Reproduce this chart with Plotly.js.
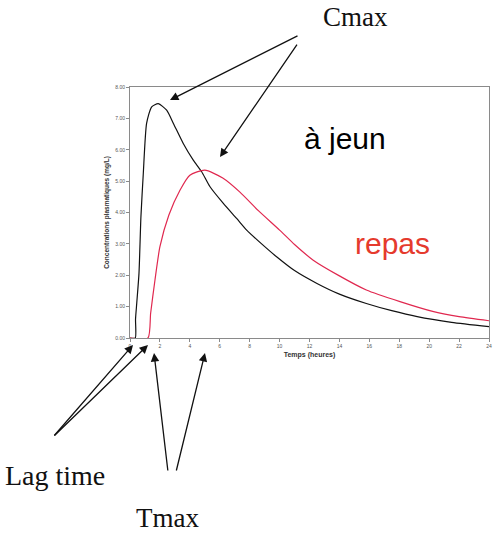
<!DOCTYPE html>
<html>
<head>
<meta charset="utf-8">
<script src="https://cdn.plot.ly/plotly-3.0.1.min.js"></script>
<style>html,body{margin:0;padding:0;background:#fff;}#chart{width:504px;height:546px;}</style>
</head>
<body>
<div id="chart"></div>
<script>
// Data (time in hours, concentration in mg/L)
const timeFasting = [0, 0.35, 0.37, 0.45, 0.6, 0.73, 0.89, 1.11, 1.45, 1.89, 2.45, 2.9, 3.56, 4.23, 4.79, 5.35, 6.24, 7.13, 7.8, 8.8, 9.8, 11.0, 12.5, 14.0, 15.8, 17.5, 19.2, 21.5, 24];
const concFasting = [0, 0, 0.6, 1.1, 2.06, 3.86, 5.25, 6.84, 7.37, 7.47, 7.26, 6.84, 6.2, 5.67, 5.30, 4.82, 4.29, 3.81, 3.44, 3.0, 2.59, 2.15, 1.74, 1.40, 1.10, 0.87, 0.68, 0.50, 0.36];
const timeMeal = [0, 1.2, 1.38, 1.67, 2.0, 2.6, 3.34, 4.0, 5.0, 6.2, 7.35, 8.6, 10.0, 11.0, 12.25, 14.0, 15.8, 18.05, 20.3, 22.0, 24];
const concMeal = [0, 0, 0.79, 1.85, 2.91, 3.92, 4.71, 5.19, 5.35, 5.1, 4.65, 4.05, 3.44, 2.98, 2.48, 1.98, 1.53, 1.16, 0.84, 0.68, 0.55];
const xTicks = [0, 2, 4, 6, 8, 10, 12, 14, 16, 18, 20, 22, 24];
const yTicks = [0, 1, 2, 3, 4, 5, 6, 7, 8];
const yTickLabels = ["0.00", "1.00", "2.00", "3.00", "4.00", "5.00", "6.00", "7.00", "8.00"];

const traces = [
  {x: timeFasting, y: concFasting, mode: 'lines', name: 'à jeun', line: {color: '#111111', width: 1.2, shape: 'spline', smoothing: 0.6}},
  {x: timeMeal, y: concMeal, mode: 'lines', name: 'repas', line: {color: '#e0284f', width: 1.2, shape: 'spline', smoothing: 0.6}}
];

const serif = 'Liberation Serif, Times New Roman, serif';
const sans = 'Liberation Sans, Arial, sans-serif';

function arrow(xp, yp, ax, ay) {
  return {xref: 'paper', yref: 'paper', x: xp, y: yp, ax: ax, ay: ay, text: '',
    showarrow: true, arrowhead: 2, arrowsize: 1.3, arrowwidth: 1.3, arrowcolor: '#111', standoff: 0};
}

const layout = {
  width: 504, height: 546,
  margin: {l: 130, r: 15, t: 87, b: 208},
  paper_bgcolor: '#fff', plot_bgcolor: '#fff',
  showlegend: false,
  xaxis: {
    range: [0, 24], tickvals: xTicks, ticktext: xTicks.map(String),
    showgrid: false, zeroline: false, showline: true, mirror: true,
    linecolor: '#8a8a8a', linewidth: 1, ticks: 'outside', ticklen: 3, tickcolor: '#8a8a8a',
    tickfont: {family: sans, size: 5, color: '#555'},
    title: {text: '<b>Temps (heures)</b>', font: {family: sans, size: 7, color: '#333'}, standoff: 4}
  },
  yaxis: {
    range: [0, 8], tickvals: yTicks, ticktext: yTickLabels,
    showgrid: false, zeroline: false, showline: true, mirror: true,
    linecolor: '#8a8a8a', linewidth: 1, ticks: 'outside', ticklen: 3, tickcolor: '#8a8a8a',
    tickfont: {family: sans, size: 5, color: '#555'},
    title: {text: '<b>Concentrations plasmatiques (mg/L)</b>', font: {family: sans, size: 6.5, color: '#333'}, standoff: 4}
  },
  annotations: [
    {xref: 'paper', yref: 'paper', x: 0.627, y: 1.279, text: 'Cmax', showarrow: false, font: {family: serif, size: 27, color: '#111'}, xanchor: 'center', yanchor: 'middle'},
    {xref: 'paper', yref: 'paper', x: 0.600, y: 0.793, text: 'à jeun', showarrow: false, font: {family: sans, size: 30, color: '#000'}, xanchor: 'center', yanchor: 'middle'},
    {xref: 'paper', yref: 'paper', x: 0.731, y: 0.378, text: 'repas', showarrow: false, font: {family: sans, size: 30, color: '#e53a2d'}, xanchor: 'center', yanchor: 'middle'},
    {xref: 'paper', yref: 'paper', x: -0.209, y: -0.546, text: 'Lag time', showarrow: false, font: {family: serif, size: 28, color: '#111'}, xanchor: 'center', yanchor: 'middle'},
    {xref: 'paper', yref: 'paper', x: 0.1045, y: -0.717, text: 'Tmax', showarrow: false, font: {family: serif, size: 27, color: '#111'}, xanchor: 'center', yanchor: 'middle'},
    arrow(0.1114, 0.948, 129, -65),
    arrow(0.2507, 0.721, 78, -114),
    arrow(0.00836, -0.0279, -80, 92),
    arrow(0.0501, -0.0279, -95, 92),
    arrow(0.0669, -0.0598, 14, 119),
    arrow(0.2089, -0.0598, -29, 119)
  ]
};

Plotly.newPlot('chart', traces, layout, {displayModeBar: false, staticPlot: true});
</script>
</body>
</html>
